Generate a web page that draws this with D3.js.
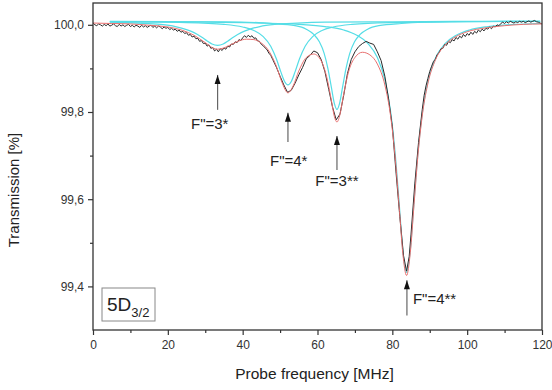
<!DOCTYPE html>
<html><head><meta charset="utf-8">
<script src="https://cdn.jsdelivr.net/npm/d3@7"></script>
<style>
html,body{margin:0;padding:0;background:#fff;}
svg{display:block;}
text{font-family:"Liberation Sans", Arial, sans-serif;}
</style></head>
<body>
<svg id="chart" width="552" height="390"></svg>
<script>
// ---------- data ----------
const measFreq = [0,0.5,1,1.5,2,2.5,3,3.5,4,4.5,5,5.5,6,6.5,7,7.5,8,8.5,9,9.5,10,10.5,11,11.5,12,12.5,13,13.5,14,14.5,15,15.5,16,16.5,17,17.5,18,18.5,19,19.5,20,20.5,21,21.5,22,22.5,23,23.5,24,24.5,25,25.5,26,26.5,27,27.5,28,28.5,29,29.5,30,30.5,31,31.5,32,32.5,33,33.5,34,34.5,35,35.5,36,36.5,37,37.5,38,38.5,39,39.5,40,40.5,41,41.5,42,42.5,43,43.5,44,44.5,45,45.5,46,46.5,47,47.5,48,
  49,50,51,52,53,54,55,56,57,58,59,60,61,62,63,64,65,66,67,68,69,70,71,72,73,74,75,76,77,78,79,80,81,82,83,83.8,84.5,85,86,87,
  88,88.5,89,89.5,90,90.5,91,91.5,92,92.5,93,93.5,94,94.5,95,95.5,96,96.5,97,97.5,98,98.5,99,99.5,100,100.5,101,101.5,102,102.5,103,103.5,104,104.5,105,105.5,106,106.5,107,107.5,108,108.5,109,109.5,110,110.5,111,111.5,112,112.5,113,113.5,114,114.5,115,115.5,116,116.5,117,117.5,118,118.5,119,119.5,120];
const measTrans = [100.004,100.000,99.998,100.002,100.000,99.997,100.001,99.998,100.002,99.997,99.999,100.002,99.998,99.996,100.001,99.997,100.000,99.996,99.999,100.001,99.996,99.999,99.995,99.999,99.997,99.994,99.999,99.995,99.998,99.994,99.997,99.999,99.994,99.997,99.993,99.997,99.995,99.991,99.995,99.992,99.994,99.989,99.992,99.988,99.990,99.985,99.988,99.983,99.985,99.980,99.982,99.976,99.978,99.972,99.974,99.968,99.969,99.962,99.964,99.957,99.958,99.951,99.954,99.946,99.948,99.940,99.944,99.938,99.945,99.941,99.947,99.944,99.951,99.949,99.956,99.955,99.961,99.959,99.966,99.964,99.970,99.975,99.971,99.976,99.972,99.975,99.969,99.970,99.963,99.962,99.955,99.952,99.947,99.943,99.935,99.930,99.921,
  99.903,99.882,99.862,99.845,99.850,99.866,99.885,99.902,99.922,99.930,99.940,99.936,99.920,99.892,99.852,99.812,99.782,99.795,99.838,99.888,99.920,99.938,99.950,99.957,99.962,99.958,99.955,99.938,99.918,99.882,99.830,99.766,99.660,99.560,99.470,99.435,99.468,99.520,99.635,99.730,
  99.806,99.838,99.860,99.877,99.893,99.905,99.916,99.921,99.932,99.936,99.945,99.946,99.955,99.953,99.962,99.959,99.966,99.963,99.971,99.967,99.974,99.970,99.978,99.973,99.980,99.976,99.983,99.978,99.985,99.981,99.988,99.984,99.990,99.986,99.992,99.990,99.995,99.991,99.997,99.995,100.000,99.998,100.003,100.006,100.003,100.007,100.004,100.008,100.006,100.004,100.007,100.005,100.008,100.006,100.008,100.005,100.007,100.009,100.006,100.008,100.010,100.007,100.006,100.004,100.002];

const fitFreq = [0,5,10,15,20,24,27,30,32,33.3,35,37,39,41,43,45,47,49,50.5,52.1,53.5,55,57,59,61,62.5,63.7,64.5,65.2,66,67,68.5,70,72,74,76,78,79.5,80.7,81.8,82.8,83.8,84.8,85.8,86.9,88.1,89.6,91.5,94,97,100,105,110,115,120];
const fitTrans = [100.004,100.003,100.002,99.999,99.995,99.987,99.976,99.959,99.947,99.944,99.947,99.955,99.963,99.967,99.966,99.958,99.940,99.905,99.868,99.844,99.860,99.894,99.925,99.933,99.917,99.879,99.827,99.790,99.777,99.794,99.841,99.898,99.925,99.937,99.931,99.910,99.862,99.793,99.702,99.586,99.476,99.425,99.477,99.588,99.706,99.798,99.869,99.919,99.953,99.973,99.984,99.993,99.998,100.001,100.002];

const peak1Freq = [4.5,12,18,22,25,27,29,30.5,31.8,33.3,34.8,36.1,37.6,39.6,41.6,44.6,48.6,54.6,62,80,100,119.5];
const peak1Trans = [100.006,100.004,100.001,99.996,99.989,99.982,99.972,99.963,99.956,99.953,99.956,99.963,99.972,99.982,99.989,99.996,100.001,100.004,100.006,100.007,100.008,100.008];

const peak2Freq = [4.5,25,35,40,43,45.5,47.5,49,50.2,51.2,52.1,53.0,54.0,55.2,56.7,58.7,61.2,64.2,69.2,79.2,100,119.5];
const peak2Trans = [100.007,100.005,100.001,99.995,99.987,99.973,99.951,99.922,99.892,99.870,99.862,99.870,99.892,99.922,99.951,99.973,99.987,99.995,100.001,100.005,100.007,100.008];

const peak3Freq = [4.5,35,48,54,57,59,60.5,61.8,62.8,63.7,64.5,65.2,65.9,66.7,67.6,68.6,69.9,71.4,73.4,76.4,82.4,95.4,119.5];
const peak3Trans = [100.008,100.007,100.003,99.998,99.990,99.978,99.961,99.934,99.899,99.857,99.820,99.806,99.820,99.857,99.899,99.934,99.961,99.978,99.990,99.998,100.003,100.007,100.008];

const peak4Freq = [4.5,30,45,55,62,67,70.5,73.5,76,78,79.5,80.7,81.8,82.8,83.8,84.8,85.8,86.9,88.1,89.6,91.6,94.1,97.1,100.6,105.6,112.6,119.5];
const peak4Trans = [100.007,100.006,100.004,100.001,99.996,99.988,99.976,99.957,99.925,99.874,99.803,99.711,99.594,99.483,99.432,99.483,99.594,99.711,99.803,99.874,99.925,99.957,99.976,99.988,99.996,100.001,100.003];

const xTickValues = [0,20,40,60,80,100,120];
const xTickLabels = ["0","20","40","60","80","100","120"];
const xMinorValues = [10,30,50,70,90,110];
const yTickValues = [99.4,99.6,99.8,100.0];
const yTickLabels = ["99,4","99,6","99,8","100,0"];
const yMinorValues = [99.5,99.7,99.9];

// annotations: arrow at frequency, arrow tip / tail transmission, text anchor
const annFreq = [33.3,52.1,65.2,83.9];
const annTip = [99.885,99.798,99.745,99.414];
const annTail = [99.805,99.731,99.667,99.333];
const annText = ['F"=3*','F"=4*','F"=3**','F"=4**'];
const annTextFreq = [31.2,52.3,65.2,85.5];
const annTextTrans = [99.760,99.676,99.630,99.360];
const annTextAnchor = ["middle","middle","middle","start"];

// ---------- drawing ----------
const svg = d3.select("#chart");
const L = 93, R = 542, T = 3, B = 330;
const x = d3.scaleLinear().domain([0,120]).range([L,R]);
const y = d3.scaleLinear().domain([99.3,100.05]).range([B,T]);

const line = (fs, vs) => d3.line().x((d,i)=>x(fs[i])).y((d,i)=>y(vs[i])).curve(d3.curveMonotoneX)(vs);
const lineLin = (fs, vs) => d3.line().x((d,i)=>x(fs[i])).y((d,i)=>y(vs[i]))(vs);

const g = svg.append("g");
const cyan = "#55dde6";
[[peak1Freq,peak1Trans],[peak2Freq,peak2Trans],[peak3Freq,peak3Trans],[peak4Freq,peak4Trans]].forEach(([f,v])=>{
  g.append("path").attr("d", line(f,v)).attr("fill","none").attr("stroke",cyan).attr("stroke-width",1.2);
});
g.append("path").attr("d", lineLin(measFreq, measTrans)).attr("fill","none").attr("stroke","#2a2a2a").attr("stroke-width",1);
g.append("path").attr("d", line(fitFreq, fitTrans)).attr("fill","none").attr("stroke","#e8706f").attr("stroke-width",1);

// frame
svg.append("rect").attr("x",L).attr("y",T).attr("width",R-L).attr("height",B-T)
  .attr("fill","none").attr("stroke","#333").attr("stroke-width",1.3);

// axes
svg.append("g").attr("transform",`translate(0,${B})`)
  .call(d3.axisBottom(x).tickValues(xTickValues).tickSize(5).tickPadding(5)
    .tickFormat(d => xTickLabels[xTickValues.indexOf(d)]));
svg.append("g").attr("transform",`translate(0,${B})`)
  .call(d3.axisBottom(x).tickValues(xMinorValues).tickSize(3).tickFormat(""));
svg.append("g").attr("transform",`translate(${L},0)`)
  .call(d3.axisLeft(y).tickValues(yTickValues).tickSize(5).tickPadding(4)
    .tickFormat(d => yTickLabels[yTickValues.indexOf(d)]));
svg.append("g").attr("transform",`translate(${L},0)`)
  .call(d3.axisLeft(y).tickValues(yMinorValues).tickSize(3).tickFormat(""));
svg.selectAll(".domain").remove();
svg.selectAll(".tick line").attr("stroke","#333").attr("stroke-width",1.2);
svg.selectAll(".tick text").attr("font-size",12).attr("fill","#333")
  .attr("font-family",'"Liberation Sans", Arial, sans-serif');

// axis labels
svg.append("text").attr("x",(L+R)/2 - 3).attr("y",379).attr("text-anchor","middle")
  .attr("font-size",15.5).attr("fill","#222").text("Probe frequency [MHz]");
svg.append("text").attr("transform","translate(19,190) rotate(-90)").attr("text-anchor","middle")
  .attr("font-size",15).attr("fill","#222").text("Transmission [%]");

// annotations
annFreq.forEach((f,i)=>{
  svg.append("line").attr("x1",x(f)).attr("x2",x(f)).attr("y1",y(annTail[i])).attr("y2",y(annTip[i]))
    .attr("stroke","#666").attr("stroke-width",1.2);
  svg.append("path").attr("d",`M${x(f)-3},${y(annTip[i])+9} L${x(f)},${y(annTip[i])} L${x(f)+3},${y(annTip[i])+9} Z`).attr("fill","#111");
  svg.append("text").attr("x",x(annTextFreq[i])).attr("y",y(annTextTrans[i])).attr("text-anchor",annTextAnchor[i])
    .attr("font-size",15).attr("fill","#222").text(annText[i]);
});

// 5D3/2 box
svg.append("rect").attr("x",102).attr("y",288).attr("width",53).attr("height",33)
  .attr("fill","#fff").attr("stroke","#888").attr("stroke-width",1);
const lbl = svg.append("text").attr("x",107).attr("y",311).attr("font-size",19).attr("fill","#222");
lbl.append("tspan").text("5D");
lbl.append("tspan").attr("font-size",13).attr("dy",6).text("3/2");
</script>
</body></html>
